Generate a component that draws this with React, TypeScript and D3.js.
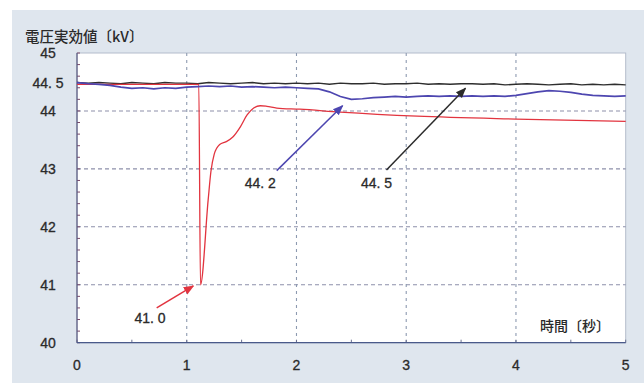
import React from 'react';
import * as d3 from 'd3';

// sampled traces, 0.1 s step
const sampleTimes = [
  0, 0.1, 0.2, 0.3, 0.4, 0.5, 0.6, 0.7, 0.8, 0.9,
  1.0, 1.1, 1.2, 1.3, 1.4, 1.5, 1.6, 1.7, 1.8, 1.9,
  2.0, 2.1, 2.2, 2.3, 2.4, 2.5, 2.6, 2.7, 2.8, 2.9,
  3.0, 3.1, 3.2, 3.3, 3.4, 3.5, 3.6, 3.7, 3.8, 3.9,
  4.0, 4.1, 4.2, 4.3, 4.4, 4.5, 4.6, 4.7, 4.8, 4.9, 5.0,
];
const blackValues = [
  44.49, 44.48, 44.49, 44.48, 44.47, 44.49, 44.48, 44.47, 44.49, 44.48,
  44.48, 44.47, 44.49, 44.48, 44.47, 44.48, 44.49, 44.47, 44.48, 44.47,
  44.48, 44.47, 44.48, 44.46, 44.48, 44.47, 44.47, 44.48, 44.46, 44.47,
  44.47, 44.48, 44.46, 44.47, 44.46, 44.47, 44.47, 44.46, 44.47, 44.45,
  44.46, 44.47, 44.46, 44.45, 44.46, 44.47, 44.45, 44.46, 44.45, 44.46, 44.45,
];
const blueValues = [
  44.49, 44.47, 44.46, 44.44, 44.41, 44.39, 44.40, 44.38, 44.40, 44.39,
  44.41, 44.42, 44.43, 44.42, 44.43, 44.41, 44.42, 44.41, 44.40, 44.41,
  44.40, 44.39, 44.38, 44.33, 44.25, 44.20, 44.21, 44.23, 44.24, 44.25,
  44.24, 44.25, 44.26, 44.25, 44.26, 44.25, 44.26, 44.25, 44.26, 44.25,
  44.27, 44.30, 44.33, 44.35, 44.34, 44.32, 44.29, 44.27, 44.26, 44.25, 44.26,
];

// red trace (fault dip and recovery)
const redTimes = [0, 0.5, 1.0, 1.11, 1.125, 1.195, 1.22, 1.25, 1.3, 1.36, 1.42, 1.49, 1.55, 1.61, 1.67, 1.73, 1.82, 2.03, 2.4, 3.1, 4.0, 5.0];
const redValues = [44.46, 44.46, 44.46, 44.46, 41.0, 42.46, 42.95, 43.25, 43.42, 43.47, 43.55, 43.73, 43.93, 44.05, 44.09, 44.08, 44.05, 44.03, 43.98, 43.91, 43.86, 43.82];

const xTicks = [0, 1, 2, 3, 4, 5];
const yTicks = [40, 41, 42, 43, 44, 44.5, 45];
const yTickLabels = ['40', '41', '42', '43', '44', '44. 5', '45'];
const yGrid = [41, 42, 43, 44];
const xGrid = [1, 2, 3, 4];

// callouts: label text, tail point, arrow tip (data units)
const callouts = [
  { text: '41. 0', color: '#e2343f', tail: [0.726, 40.6], tip: [1.06, 40.98], label: [0.665, 40.42] },
  { text: '44. 2', color: '#4d46b0', tail: [1.82, 42.97], tip: [2.42, 44.09], label: [1.67, 42.76] },
  { text: '44. 5', color: '#2b2b2b', tail: [2.82, 42.98], tip: [3.54, 44.39], label: [2.73, 42.76] },
];

const W = 644;
const H = 383;
const plot = { left: 77, top: 53, right: 625.7, bottom: 342.7 };

export default function App() {
  const x = d3.scaleLinear().domain([0, 5]).range([plot.left, plot.right]);
  const y = d3.scaleLinear().domain([40, 45]).range([plot.bottom, plot.top]);

  const line = d3.line<[number, number]>().x((d) => x(d[0])).y((d) => y(d[1]));
  const redLine = d3
    .line<[number, number]>()
    .x((d) => x(d[0]))
    .y((d) => y(d[1]))
    .curve(d3.curveMonotoneX);

  const black = sampleTimes.map((t, i) => [t, blackValues[i]] as [number, number]);
  const blue = sampleTimes.map((t, i) => [t, blueValues[i]] as [number, number]);
  const red = redTimes.map((t, i) => [t, redValues[i]] as [number, number]);

  const minorY = d3.range(40, 45.001, 0.2);
  const minorX = d3.range(0, 5.001, 0.5);

  const numFont = '"Liberation Sans", Arial, sans-serif';
  const jpFont = '"Noto Sans CJK JP", sans-serif';
  const textStyle = { fill: '#2a2a2a', stroke: '#2a2a2a', strokeWidth: 0.3 };

  return (
    <svg width={W} height={H} style={{ position: 'absolute', left: 0, top: 0 }}>
      <defs>
        {callouts.map((c, i) => (
          <marker key={i} id={`arrow${i}`} viewBox="0 0 10 10" refX="9" refY="5" markerWidth="7" markerHeight="7" orient="auto">
            <path d="M0,1 L10,5 L0,9 z" fill={c.color} />
          </marker>
        ))}
      </defs>
      <rect x={0} y={0} width={W} height={H} fill="#ffffff" />
      <rect x={12} y={10} width={W - 12} height={H - 10} fill="#dfe6ee" />
      <rect x={plot.left} y={plot.top} width={plot.right - plot.left} height={plot.bottom - plot.top} fill="#ffffff" stroke="#b4bccb" strokeWidth={1} />

      {/* grid */}
      {yGrid.map((v) => (
        <line key={`gy${v}`} x1={plot.left} x2={plot.right} y1={y(v)} y2={y(v)} stroke="#8d90aa" strokeWidth={1.1} strokeDasharray="4,3" />
      ))}
      {xGrid.map((v) => (
        <line key={`gx${v}`} x1={x(v)} x2={x(v)} y1={plot.top} y2={plot.bottom} stroke="#8d9ab0" strokeWidth={1.1} strokeDasharray="3,4" />
      ))}

      {/* minor ticks */}
      {minorY.map((v, i) => (
        <line key={`my${i}`} x1={plot.left} x2={plot.left + 3} y1={y(v)} y2={y(v)} stroke="#7a4a6a" strokeWidth={1} />
      ))}
      {minorX.map((v, i) => (
        <line key={`mx${i}`} x1={x(v)} x2={x(v)} y1={plot.bottom} y2={plot.bottom - 3} stroke="#6a7090" strokeWidth={1} />
      ))}

      {/* axes */}
      <line x1={plot.left} x2={plot.left} y1={plot.top} y2={plot.bottom} stroke="#5a5a80" strokeWidth={1.2} />
      <line x1={plot.left} x2={plot.right} y1={plot.bottom} y2={plot.bottom} stroke="#4a5a8a" strokeWidth={1.2} />

      {/* traces */}
      <path d={line(black) || ''} fill="none" stroke="#2e2e2e" strokeWidth={1.4} />
      <path d={redLine(red) || ''} fill="none" stroke="#e2343f" strokeWidth={1.3} />
      <path d={line(blue) || ''} fill="none" stroke="#4d46b0" strokeWidth={1.7} />

      {/* callouts */}
      {callouts.map((c, i) => (
        <g key={`c${i}`}>
          <line
            x1={x(c.tail[0])}
            y1={y(c.tail[1])}
            x2={x(c.tip[0])}
            y2={y(c.tip[1])}
            stroke={c.color}
            strokeWidth={1.5}
            markerEnd={`url(#arrow${i})`}
          />
          <text x={x(c.label[0])} y={y(c.label[1])} textAnchor="middle" dominantBaseline="central" fontFamily={numFont} fontSize={14} style={textStyle}>
            {c.text}
          </text>
        </g>
      ))}

      {/* tick labels */}
      {yTicks.map((v, i) => (
        <text key={`ty${v}`} x={48} y={y(v) + (v === 44.5 ? 1.5 : 0)} textAnchor="middle" dominantBaseline="central" fontFamily={numFont} fontSize={14} style={textStyle}>
          {yTickLabels[i]}
        </text>
      ))}
      {xTicks.map((v) => (
        <text key={`tx${v}`} x={x(v)} y={365} textAnchor="middle" dominantBaseline="central" fontFamily={numFont} fontSize={14} style={textStyle}>
          {v}
        </text>
      ))}

      <text x={25} y={35} dominantBaseline="central" fontFamily={jpFont} fontSize={14.5} fontWeight={500} fill="#2a2a2a">
        電圧実効値〔kV〕
      </text>
      <text x={540} y={325} dominantBaseline="central" fontFamily={jpFont} fontSize={14} fontWeight={500} fill="#2a2a2a">
        時間〔秒〕
      </text>
    </svg>
  );
}
